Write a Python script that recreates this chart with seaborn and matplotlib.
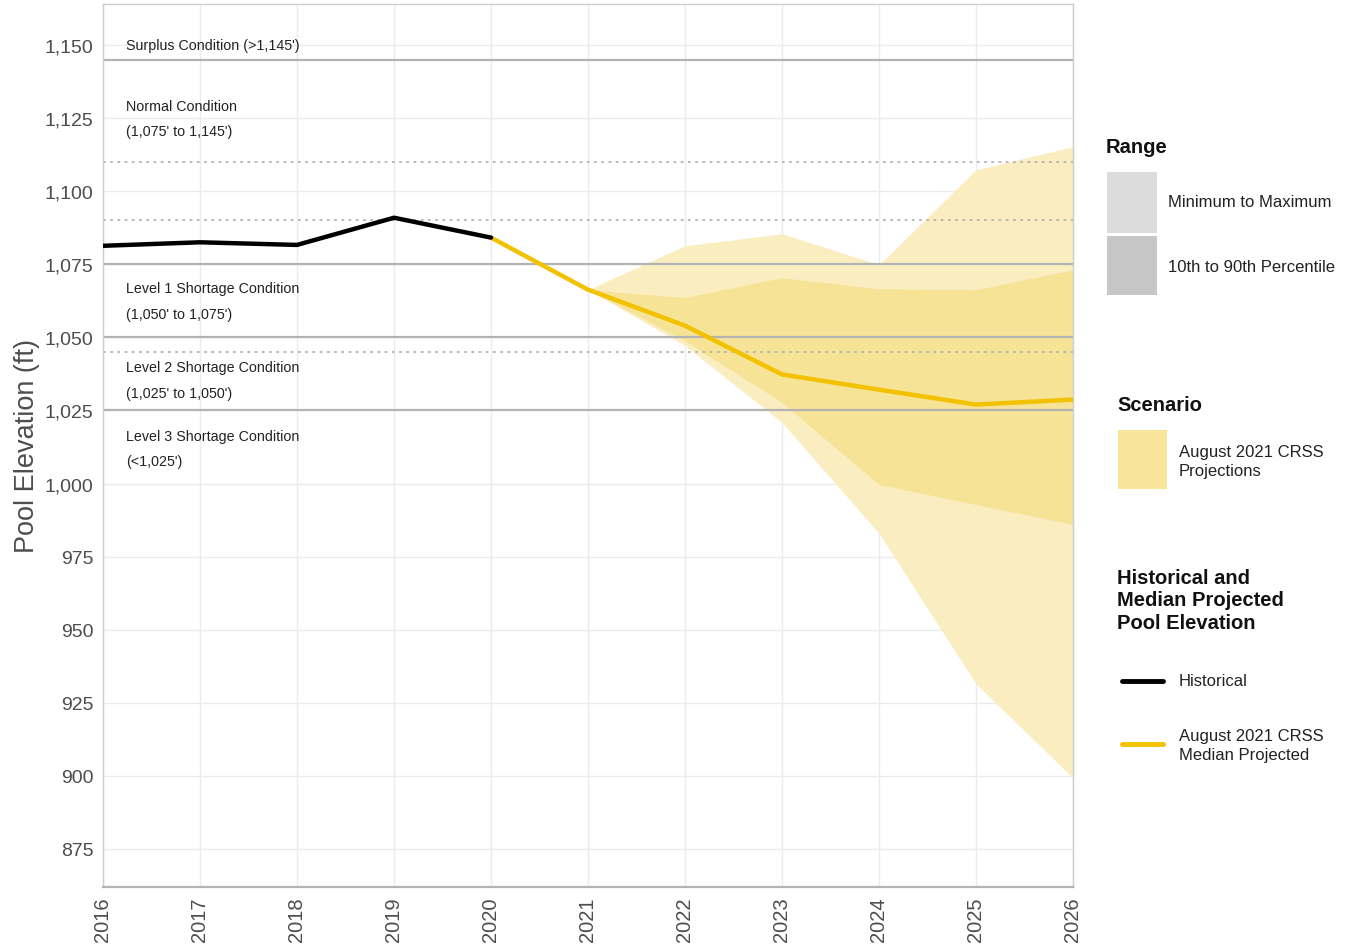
import matplotlib
matplotlib.use("Agg")
import matplotlib.pyplot as plt
import matplotlib.patches as mpatches
import matplotlib.lines as mlines
import numpy as np
import pandas as pd
import seaborn as sns

# ── Data ──────────────────────────────────────────────────────────────────────
hist_years = [2016, 2017, 2018, 2019, 2020]
hist_elev = [1081.3, 1082.5, 1081.6, 1090.9, 1084.1]

proj_years = [2020, 2021, 2022, 2023, 2024, 2025, 2026]
median_elev = [1084.1, 1066.3, 1054.0, 1037.3, 1032.1, 1027.0, 1028.7]

band_years = [2021, 2022, 2023, 2024, 2025, 2026]
max_elev = [1066.3, 1081.3, 1085.4, 1074.8, 1107.3, 1115.2]
min_elev = [1066.3, 1047.2, 1020.9, 983.0, 931.5, 899.3]
p90_elev = [1066.3, 1063.6, 1070.4, 1066.6, 1066.3, 1073.1]
p10_elev = [1066.3, 1048.8, 1027.7, 999.7, 992.8, 986.0]

solid_levels = [1145, 1075, 1050, 1025]
dotted_levels = [1110, 1090, 1045]

zone_labels = [
    (1150.0, "Surplus Condition (>1,145')"),
    (1129.2, "Normal Condition"),
    (1120.6, "(1,075' to 1,145')"),
    (1066.7, "Level 1 Shortage Condition"),
    (1058.1, "(1,050' to 1,075')"),
    (1039.7, "Level 2 Shortage Condition"),
    (1031.1, "(1,025' to 1,050')"),
    (1016.4, "Level 3 Shortage Condition"),
    (1007.8, "(<1,025')"),
]

x_ticks = list(range(2016, 2027))
y_ticks = [875, 900, 925, 950, 975, 1000, 1025, 1050, 1075, 1100, 1125, 1150]

# ── Style ─────────────────────────────────────────────────────────────────────
YELLOW = "#F2C200"
MINMAX = "#FAEDC0"
P1090 = "#F7E396"
sns.set_theme(style="whitegrid")
plt.rcParams["font.family"] = ["Liberation Sans", "DejaVu Sans"]

W, H = 1357, 953
fig = plt.figure(figsize=(W / 100, H / 100), dpi=100)
ax = fig.add_axes([103 / W, 1 - 888 / H, (1073 - 103) / W, (888 - 5) / H])

# bands
ax.fill_between(band_years, min_elev, max_elev, color=MINMAX, lw=0, zorder=1)
ax.fill_between(band_years, p10_elev, p90_elev, color=P1090, lw=0, zorder=1.1)

# condition lines
for lv in solid_levels:
    ax.axhline(lv, color="#b3b3b3", lw=1.6, zorder=2)
for lv in dotted_levels:
    ax.axhline(lv, color="#b3b3b3", lw=1.3, ls=(0, (1.5, 2.5)), zorder=2)

hist = pd.DataFrame({"year": hist_years, "elev": hist_elev})
proj = pd.DataFrame({"year": proj_years, "elev": median_elev})
sns.lineplot(data=proj, x="year", y="elev", color=YELLOW, lw=3.2, ax=ax, zorder=4)
sns.lineplot(data=hist, x="year", y="elev", color="black", lw=3.2, ax=ax, zorder=4)

for yv, txt in zone_labels:
    ax.text(2016.24, yv, txt, fontsize=10.3, va="center", ha="left",
            color="#222222", zorder=5)

ax.set_xlim(2016, 2026)
ax.set_ylim(862, 1164)
ax.set_xticks(x_ticks)
ax.set_yticks(y_ticks)
ax.set_xticklabels([str(x) for x in x_ticks], rotation=90, fontsize=14.5, color="#4d4d4d")
ax.set_yticklabels([f"{y:,}" for y in y_ticks], fontsize=14, color="#4d4d4d")
ax.tick_params(axis="both", length=4, color="#b3b3b3", width=0.8, pad=3)
ax.set_xlabel("")
ax.set_ylabel("Pool Elevation (ft)", fontsize=19.5, color="#4d4d4d", labelpad=3)
ax.grid(True, color="#ebebeb", lw=1.0)
for s in ax.spines.values():
    s.set_visible(True)
    s.set_color("#cccccc")
    s.set_linewidth(1.0)
ax.spines["bottom"].set_color("#b3b3b3")
ax.spines["bottom"].set_linewidth(1.6)


# ── Legend (figure pixel coords) ─────────────────────────────────────────────
def fx(px):
    return px / W


def fy(py):
    return 1 - py / H


def rect(x0, y0, x1, y1, color):
    fig.add_artist(mpatches.Rectangle((fx(x0), fy(y1)), fx(x1) - fx(x0), fy(y0) - fy(y1),
                                      transform=fig.transFigure, color=color, lw=0))


LBL = dict(fontsize=12, va="center", color="#222222", linespacing=1.3)
TTL = dict(fontsize=14.5, fontweight="bold", va="center", color="#111111", linespacing=1.25)

fig.text(fx(1106), fy(148), "Range", **TTL)
rect(1107, 173, 1157, 234, "#dcdcdc")
rect(1107, 237, 1157, 296, "#c6c6c6")
fig.text(fx(1168), fy(203), "Minimum to Maximum", **LBL)
fig.text(fx(1168), fy(267), "10th to 90th Percentile", **LBL)

fig.text(fx(1117), fy(406), "Scenario", **TTL)
rect(1118, 431, 1167, 490, "#F8E59B")
fig.text(fx(1179), fy(462), "August 2021 CRSS\nProjections", **LBL)

fig.text(fx(1117), fy(601), "Historical and\nMedian Projected\nPool Elevation", **TTL)
fig.add_artist(mlines.Line2D([fx(1122), fx(1163)], [fy(682), fy(682)], color="black", lw=3.5,
                             transform=fig.transFigure))
fig.add_artist(mlines.Line2D([fx(1122), fx(1163)], [fy(745), fy(745)], color=YELLOW, lw=3.5,
                             transform=fig.transFigure))
fig.text(fx(1179), fy(682), "Historical", **LBL)
fig.text(fx(1179), fy(746), "August 2021 CRSS\nMedian Projected", **LBL)

fig.savefig("out.png", dpi=100)
